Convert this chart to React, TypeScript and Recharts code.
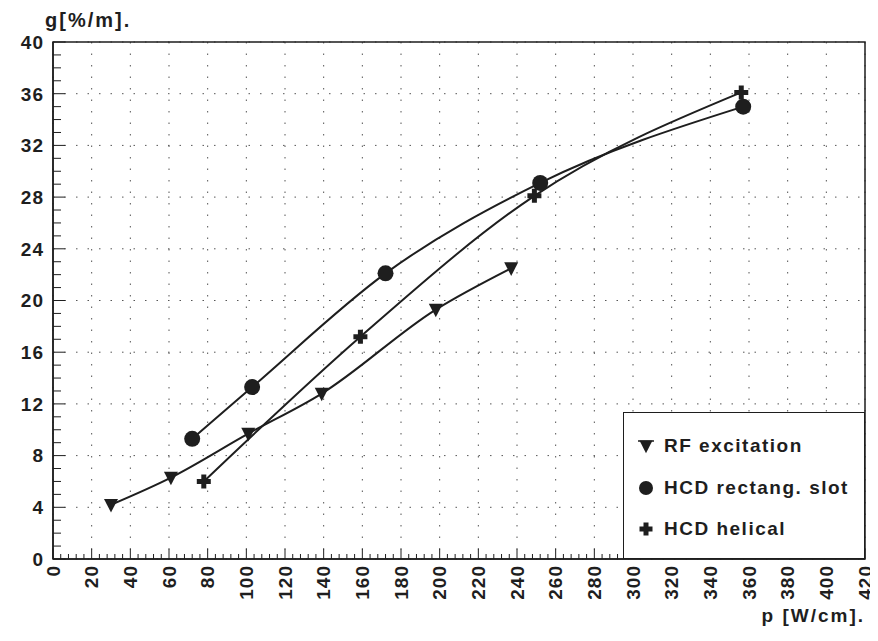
import React from "react";
import {
  CartesianGrid,
  Legend,
  Line,
  LineChart,
  ReferenceArea,
  XAxis,
  YAxis,
} from "recharts";

// p [W/cm] vs g [%/m]
const rfP = [30, 61, 101, 139, 198, 237];
const rfG = [4.2, 6.3, 9.7, 12.8, 19.3, 22.5];
const slotP = [72, 103, 172, 252, 357];
const slotG = [9.3, 13.3, 22.1, 29.1, 35.0];
const helP = [78, 159, 249, 356];
const helG = [6.0, 17.2, 28.1, 36.1];

const seriesNames = ["RF excitation", "HCD rectang. slot", "HCD helical"];

const xMajor = [0, 20, 40, 60, 80, 100, 120, 140, 160, 180, 200, 220, 240, 260, 280, 300, 320, 340, 360, 380, 400, 420];
const yMajor = [0, 4, 8, 12, 16, 20, 24, 28, 32, 36, 40];

// minor ticks: 4 between x majors, 3 between y majors
const xTicks = xMajor.flatMap((v, i) => (i === 0 ? [v] : [v - 16, v - 12, v - 8, v - 4, v]));
const yTicks = yMajor.flatMap((v, i) => (i === 0 ? [v] : [v - 3, v - 2, v - 1, v]));

const toPoints = (xs: number[], ys: number[]) => xs.map((x, i) => ({ x, y: ys[i] }));
const rfData = toPoints(rfP, rfG);
const slotData = toPoints(slotP, slotG);
const helData = toPoints(helP, helG);

const INK = "#1e1e1e";
const FONT = "'Liberation Sans', Arial, sans-serif";

const Triangle = ({ cx, cy, s = 14 }: any) => (
  <path
    d={`M${cx - s / 2},${cy - s / 2.4} L${cx + s / 2},${cy - s / 2.4} L${cx},${cy + s / 1.8} Z`}
    fill={INK}
  />
);

const Circle = ({ cx, cy, r = 8 }: any) => <circle cx={cx} cy={cy} r={r} fill={INK} />;

const Plus = ({ cx, cy, s = 14, t = 5 }: any) => (
  <path
    d={`M${cx - t / 2},${cy - s / 2} h${t} v${(s - t) / 2} h${(s - t) / 2} v${t} h${-(s - t) / 2} v${(s - t) / 2} h${-t} v${-(s - t) / 2} h${-(s - t) / 2} v${-t} h${(s - t) / 2} Z`}
    fill={INK}
  />
);

const markers = [Triangle, Circle, Plus];

const XTick = ({ x, y, payload }: any) => {
  const major = payload.value % 20 === 0;
  return (
    <g>
      <line x1={x} y1={y} x2={x} y2={y - (major ? 10 : 5)} stroke={INK} strokeWidth={1} />
      {major && (
        <text
          transform={`translate(${x},${y + 6}) rotate(-90)`}
          textAnchor="end"
          dominantBaseline="central"
          fontFamily={FONT}
          fontWeight="bold"
          fontSize={19}
          letterSpacing={1}
          fill={INK}
        >
          {payload.value}
        </text>
      )}
    </g>
  );
};

const YTick = ({ x, y, payload }: any) => {
  const major = payload.value % 4 === 0;
  return (
    <g>
      <line x1={x} y1={y} x2={x + (major ? 12 : 8)} y2={y} stroke={INK} strokeWidth={1} />
      {major && (
        <text
          x={x - 9}
          y={y}
          dy="0.36em"
          textAnchor="end"
          fontFamily={FONT}
          fontWeight="bold"
          fontSize={19}
          letterSpacing={1}
          fill={INK}
        >
          {payload.value}
        </text>
      )}
    </g>
  );
};

const LegendBox = () => (
  <div
    style={{
      position: "relative",
      width: 242,
      height: 147,
      boxSizing: "border-box",
      border: `1px solid ${INK}`,
      background: "#fff",
      fontFamily: FONT,
      fontWeight: "bold",
      fontSize: 19,
      letterSpacing: 1.5,
      color: INK,
    }}
  >
    {seriesNames.map((name, i) => {
      const M = markers[i];
      const top = [33, 75, 116][i];
      return (
        <div key={name} style={{ position: "absolute", left: 0, top: top - 12, height: 24, width: 240 }}>
          <svg width={36} height={24} style={{ position: "absolute", left: 8, top: 0 }}>
            {i === 0 && <line x1={6} y1={7} x2={22} y2={7} stroke={INK} strokeWidth={1.5} />}
            <M cx={14} cy={12} s={13} r={7} t={5} />
          </svg>
          <span style={{ position: "absolute", left: 40, top: 0, lineHeight: "24px", whiteSpace: "nowrap" }}>
            {name}
          </span>
        </div>
      );
    })}
  </div>
);

export default function App() {
  return (
    <LineChart
      width={870}
      height={625}
      margin={{ top: 34, right: 13, bottom: 0, left: 0 }}
      style={{ background: "#fff" }}
    >
      <CartesianGrid
        verticalValues={xMajor}
        horizontalValues={yMajor}
        stroke="#555"
        strokeDasharray="1.5 10"
        strokeWidth={1}
      />
      <XAxis
        type="number"
        dataKey="x"
        domain={[0, 420]}
        ticks={xTicks}
        interval={0}
        tick={<XTick />}
        tickLine={false}
        tickSize={0}
        tickMargin={0}
        height={74}
        axisLine={{ stroke: INK, strokeWidth: 1.5 }}
        allowDuplicatedCategory={false}
        label={{
          content: ({ viewBox }: any) => (
            <text
              x={viewBox.x + viewBox.width}
              y={viewBox.y + 63}
              textAnchor="end"
              fontFamily={FONT}
              fontWeight="bold"
              fontSize={19}
              letterSpacing={2}
              fill={INK}
            >
              p [W/cm].
            </text>
          ),
        }}
      />
      <YAxis
        type="number"
        domain={[0, 40]}
        ticks={yTicks}
        interval={0}
        tick={<YTick />}
        tickLine={false}
        tickSize={0}
        tickMargin={0}
        width={45}
        axisLine={{ stroke: INK, strokeWidth: 1.5 }}
        label={{
          content: ({ viewBox }: any) => (
            <text
              x={37}
              y={viewBox.y - 15}
              fontFamily={FONT}
              fontWeight="bold"
              fontSize={20}
              letterSpacing={2}
              fill={INK}
            >
              g[%/m].
            </text>
          ),
        }}
      />
      <ReferenceArea x1={0} x2={420} y1={0} y2={40} fill="none" stroke={INK} strokeWidth={1.5} />
      <Line
        data={rfData}
        dataKey="y"
        type="monotone"
        stroke={INK}
        strokeWidth={2}
        dot={(p: any) => <Triangle key={`rf${p.index}`} cx={p.cx} cy={p.cy} />}
        activeDot={false}
        isAnimationActive={false}
        name={seriesNames[0]}
      />
      <Line
        data={slotData}
        dataKey="y"
        type="monotone"
        stroke={INK}
        strokeWidth={2}
        dot={(p: any) => <Circle key={`sl${p.index}`} cx={p.cx} cy={p.cy} />}
        activeDot={false}
        isAnimationActive={false}
        name={seriesNames[1]}
      />
      <Line
        data={helData}
        dataKey="y"
        type="monotone"
        stroke={INK}
        strokeWidth={2}
        dot={(p: any) => <Plus key={`hl${p.index}`} cx={p.cx} cy={p.cy} />}
        activeDot={false}
        isAnimationActive={false}
        name={seriesNames[2]}
      />
      <Legend
        layout="horizontal"
        verticalAlign="middle"
        align="center"
        content={() => <LegendBox />}
        wrapperStyle={{ left: 615, top: 404, width: 242, height: 147 }}
      />
    </LineChart>
  );
}
